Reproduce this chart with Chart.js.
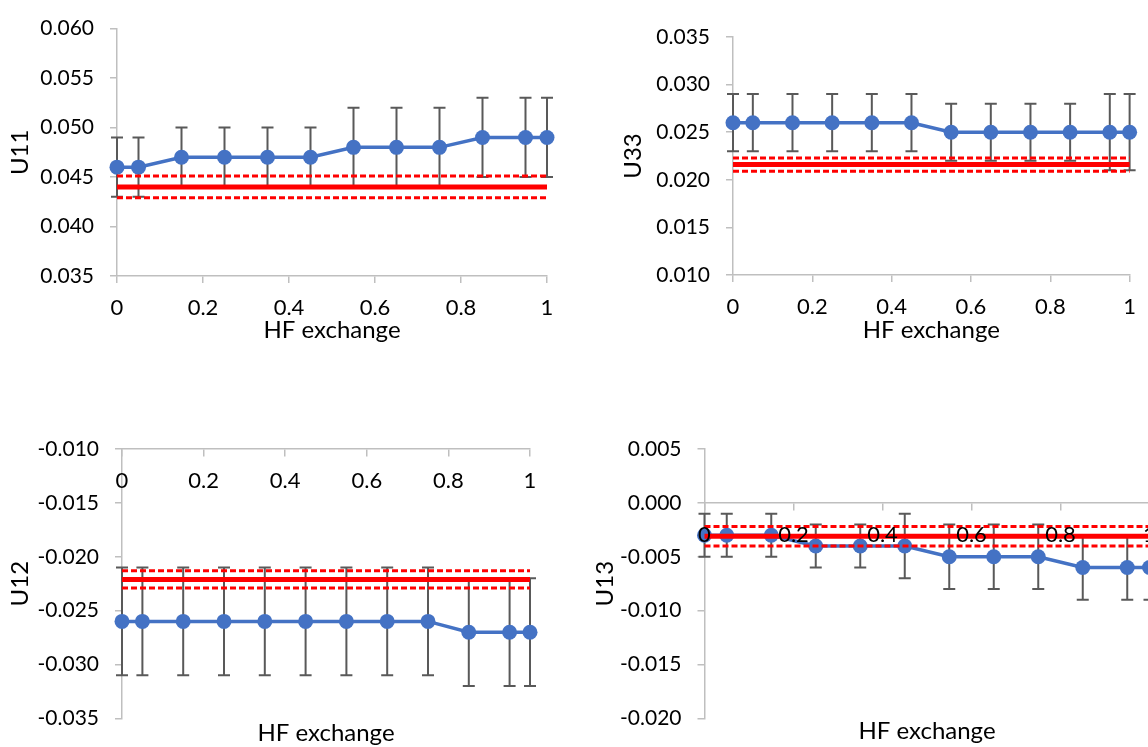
<!DOCTYPE html>
<html>
<head>
<meta charset="utf-8">
<script src="https://cdn.jsdelivr.net/npm/chart.js@4.4.0/dist/chart.umd.min.js"></script>
<style>
  html, body { margin: 0; padding: 0; background: #fff; overflow: hidden; width: 1148px; height: 747px; }
  canvas { position: absolute; }
</style>
</head>
<body>
<canvas id="u11" width="574" height="370" style="left:0;top:0"></canvas>
<canvas id="u33" width="574" height="370" style="left:574px;top:0"></canvas>
<canvas id="u12" width="574" height="374" style="left:0;top:373px"></canvas>
<canvas id="u13" width="600" height="374" style="left:574px;top:373px"></canvas>
<script>
// HF exchange fraction (x axis, shared by all four panels)
const hfExchange = [0, 0.05, 0.15, 0.25, 0.35, 0.45, 0.55, 0.65, 0.75, 0.85, 0.95, 1];

// computed values and their error bars; ref = [experimental value, uncertainty]
const u11 = [0.046, 0.046, 0.047, 0.047, 0.047, 0.047, 0.048, 0.048, 0.048, 0.049, 0.049, 0.049];
const u11Err = [0.003, 0.003, 0.003, 0.003, 0.003, 0.003, 0.004, 0.004, 0.004, 0.004, 0.004, 0.004];
const u11Ref = [0.044, 0.0011];

const u33 = [0.026, 0.026, 0.026, 0.026, 0.026, 0.026, 0.025, 0.025, 0.025, 0.025, 0.025, 0.025];
const u33Err = [0.003, 0.003, 0.003, 0.003, 0.003, 0.003, 0.003, 0.003, 0.003, 0.003, 0.004, 0.004];
const u33Ref = [0.0216, 0.0007];

const u12 = [-0.026, -0.026, -0.026, -0.026, -0.026, -0.026, -0.026, -0.026, -0.026, -0.027, -0.027, -0.027];
const u12Err = [0.005, 0.005, 0.005, 0.005, 0.005, 0.005, 0.005, 0.005, 0.005, 0.005, 0.005, 0.005];
const u12Ref = [-0.0221, 0.0008];

const u13 = [-0.003, -0.003, -0.003, -0.004, -0.004, -0.004, -0.005, -0.005, -0.005, -0.006, -0.006, -0.006];
const u13Err = [0.002, 0.002, 0.002, 0.002, 0.002, 0.003, 0.003, 0.003, 0.003, 0.003, 0.003, 0.003];
const u13Ref = [-0.0031, 0.0009];

const xTicks = [0, 0.2, 0.4, 0.6, 0.8, 1];

const BLUE = '#4472C4';
const RED = '#FF0000';
const AXIS = '#BFBFBF';

Chart.defaults.font.family = 'Lato, sans-serif';
Chart.defaults.font.size = 21;
Chart.defaults.color = '#000';

// draws vertical error bars behind the markers, using the chart's own scales
const errorBars = {
  id: 'errorBars',
  beforeDatasetsDraw(chart) {
    const { ctx, scales: { x, y } } = chart;
    chart.data.datasets.forEach(ds => {
      if (!ds.errors) return;
      ctx.save();
      ctx.strokeStyle = '#595959';
      ctx.lineWidth = 2;
      ds.data.forEach((pt, i) => {
        const px = x.getPixelForValue(pt.x);
        const hi = y.getPixelForValue(pt.y + ds.errors[i]);
        const lo = y.getPixelForValue(pt.y - ds.errors[i]);
        ctx.beginPath();
        ctx.moveTo(px, hi); ctx.lineTo(px, lo);
        ctx.moveTo(px - 6, hi); ctx.lineTo(px + 6, hi);
        ctx.moveTo(px - 6, lo); ctx.lineTo(px + 6, lo);
        ctx.stroke();
      });
      ctx.restore();
    });
  }
};

function fmt3(v) {
  if (Math.abs(v) < 1e-9) v = 0;
  return v.toFixed(3);
}

function makePanel(p) {
  const canvas = document.getElementById(p.id);
  const [ref, refErr] = p.ref;
  const ends = [hfExchange[0], hfExchange[hfExchange.length - 1]];
  const flat = v => ends.map(x => ({ x, y: v }));
  const dashed = v => ({ data: flat(v), borderColor: RED, borderWidth: 3, borderDash: [6, 3], pointRadius: 0, order: 2 });
  const grid = { drawOnChartArea: false, drawTicks: true, tickLength: 7, color: AXIS, lineWidth: 1.5 };
  const border = { color: AXIS, width: 1.5 };

  return new Chart(canvas, {
    type: 'line',
    data: {
      datasets: [
        { data: hfExchange.map((x, i) => ({ x, y: p.values[i] })), errors: p.errors,
          borderColor: BLUE, backgroundColor: BLUE, borderWidth: 3.5, tension: 0,
          pointRadius: 7.5, pointHoverRadius: 7.5, pointBorderWidth: 0, order: 3 },
        { data: flat(ref), borderColor: RED, borderWidth: 5, pointRadius: 0, order: 1 },
        dashed(ref + refErr),
        dashed(ref - refErr)
      ]
    },
    options: {
      responsive: false,
      animation: false,
      events: [],
      clip: false,
      layout: { padding: p.pad },
      plugins: { legend: { display: false }, tooltip: { enabled: false } },
      scales: {
        x: {
          type: 'linear', min: 0, max: 1,
          position: p.xPos,
          grid, border,
          afterBuildTicks: s => { s.ticks = xTicks.map(v => ({ value: v })); },
          ticks: { padding: 12, autoSkip: false, maxRotation: 0, z: 1, font: { size: 22 },
                   callback: v => String(Math.round(v * 10) / 10) },
          title: { display: true, text: 'HF exchange', font: { size: 24 }, padding: { top: 0, bottom: 4 } },
          afterFit: s => { s.height = p.xHeight; }
        },
        y: {
          min: p.yMin, max: p.yMax,
          grid, border,
          ticks: { stepSize: 0.005, padding: 16, callback: fmt3 },
          title: { display: true, text: p.title, font: { size: 24 }, padding: { top: 4, bottom: 0 } },
          afterFit: s => { s.width = p.yWidth; }
        }
      }
    },
    plugins: [errorBars]
  });
}

makePanel({ id: 'u11', title: 'U11', values: u11, errors: u11Err, ref: u11Ref,
  yMin: 0.035, yMax: 0.060, xPos: 'bottom',
  pad: { left: 2.3, top: 23, right: 27, bottom: 21.6 }, yWidth: 114.7, xHeight: 72.4 });

makePanel({ id: 'u33', title: 'U33', values: u33, errors: u33Err, ref: u33Ref,
  yMin: 0.010, yMax: 0.035, xPos: 'bottom',
  pad: { left: 41.2, top: 37, right: 14, bottom: 21.6 }, yWidth: 117.8, xHeight: 73.4 });

makePanel({ id: 'u12', title: 'U12', values: u12, errors: u12Err, ref: u12Ref,
  yMin: -0.035, yMax: -0.010, xPos: { y: -0.010 },
  pad: { left: 2.2, top: 76, right: 44, bottom: 17 }, yWidth: 119.8, xHeight: 302.4 });

makePanel({ id: 'u13', title: 'U13', values: u13, errors: u13Err, ref: u13Ref,
  yMin: -0.020, yMax: 0.005, xPos: { y: 0 },
  pad: { left: 12.8, top: 76, right: 24.5, bottom: 16 }, yWidth: 117.7, xHeight: 246.4 });
</script>
</body>
</html>
